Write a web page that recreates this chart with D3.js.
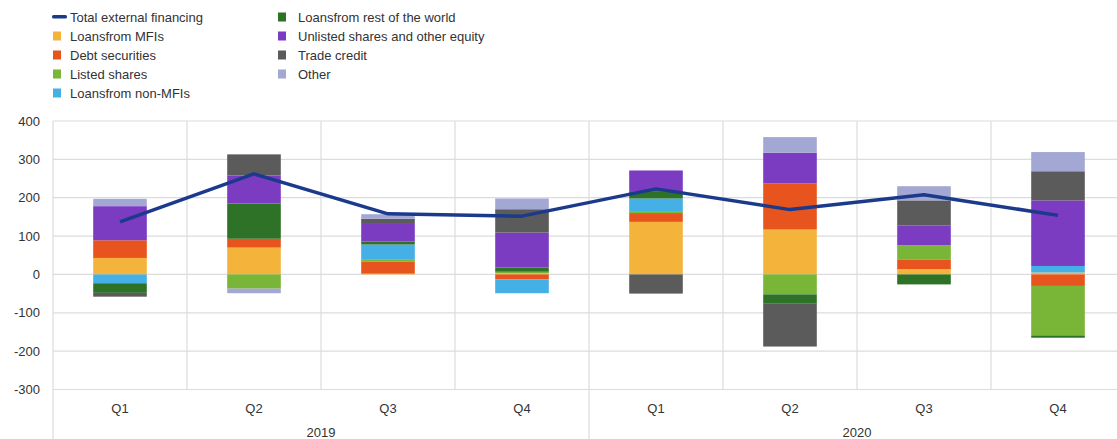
<!DOCTYPE html>
<html>
<head>
<meta charset="utf-8">
<script src="https://cdn.jsdelivr.net/npm/d3@7"></script>
<style>
  body { margin: 0; background: #fff; }
  text { font-family: "Liberation Sans", Arial, sans-serif; fill: #333; }
</style>
</head>
<body>
<svg id="chart" width="1117" height="439"></svg>
<script>
// quarters and years
const quarters = ["Q1", "Q2", "Q3", "Q4", "Q1", "Q2", "Q3", "Q4"];
const years = ["2019", "2019", "2019", "2019", "2020", "2020", "2020", "2020"];

// components, stacking order
const seriesNames = ["Loansfrom MFIs", "Debt securities", "Listed shares", "Loansfrom non-MFIs",
  "Loansfrom rest of the world", "Unlisted shares and other equity", "Trade credit", "Other"];
const seriesColors = ["#f4b43c", "#e8541e", "#79b536", "#45b0e5", "#2d7227", "#7b3cc2", "#5b5b5b", "#a3a7d3"];

const loansMFI     = [43, 70, 2, 3, 137, 117, 14, 5];
const debtSec      = [46, 23, 31, -13, 23, 120, 24, -30];
const listedShares = [0, -37, 5, 4, 5, -52, 38, -129];
const loansNonMFI  = [-23, 0, 40, -36, 33, 0, 0, 17];
const loansRotw    = [-25, 92, 8, 11, 17, -23, -26, -6];
const unlisted     = [89, 73, 48, 91, 56, 80, 52, 171];
const tradeCredit  = [-10, 55, 11, 61, -50, -113, 65, 76];
const other        = [19, -12, 12, 28, 0, 41, 37, 50];
const totalFinancing = [137, 262, 158, 152, 223, 169, 208, 154];

const yTicks = [400, 300, 200, 100, 0, -100, -200, -300];

const seriesValues = [loansMFI, debtSec, listedShares, loansNonMFI, loansRotw, unlisted, tradeCredit, other];

const svg = d3.select("#chart");
const plotLeft = 53, plotTop = 121, plotBottom = 389.5, step = 134;

const cats = quarters.map((q, i) => years[i] + " " + q);
const rows = cats.map((c, i) => {
  const r = { cat: c };
  seriesNames.forEach((s, j) => r[s] = seriesValues[j][i]);
  return r;
});

const x = d3.scaleBand().domain(cats).range([plotLeft, plotLeft + step * cats.length])
  .paddingInner(0.6).paddingOuter(0.3);
const y = d3.scaleLinear().domain([-300, 400]).range([plotBottom, plotTop]);

// horizontal grid
svg.append("g").selectAll("line").data(yTicks).enter().append("line")
  .attr("x1", plotLeft).attr("x2", 1117)
  .attr("y1", d => y(d)).attr("y2", d => y(d))
  .attr("stroke", "#dcdcdc").attr("stroke-width", 1.2);

// vertical grid at category boundaries
svg.append("g").selectAll("line").data(cats.slice(1)).enter().append("line")
  .attr("x1", d => x(d) - x.step() * x.paddingInner() / 2)
  .attr("x2", d => x(d) - x.step() * x.paddingInner() / 2)
  .attr("y1", plotTop).attr("y2", (d, i) => years[i + 1] !== years[i] ? 439 : plotBottom)
  .attr("stroke", "#dcdcdc").attr("stroke-width", 1.2);

svg.append("line").attr("x1", plotLeft).attr("x2", plotLeft).attr("y1", plotTop).attr("y2", 439)
  .attr("stroke", "#dcdcdc").attr("stroke-width", 1.2);

// y labels
svg.append("g").selectAll("text").data(yTicks).enter().append("text")
  .attr("x", 40).attr("y", d => y(d) + 4.5)
  .attr("text-anchor", "end").style("font-size", "13px")
  .text(d => d);

// stacked bars
const stack = d3.stack().keys(seriesNames).offset(d3.stackOffsetDiverging);
const layers = stack(rows);

svg.append("g").selectAll("g").data(layers).enter().append("g")
  .attr("fill", (d, i) => seriesColors[i])
  .selectAll("rect").data(d => d).enter().append("rect")
  .attr("x", d => x(d.data.cat))
  .attr("width", x.bandwidth())
  .attr("y", d => y(Math.max(d[0], d[1])))
  .attr("height", d => Math.abs(y(d[0]) - y(d[1])));

// total line
const line = d3.line()
  .x((d, i) => x(cats[i]) + x.bandwidth() / 2)
  .y(d => y(d));
svg.append("path").datum(totalFinancing)
  .attr("d", line).attr("fill", "none")
  .attr("stroke", "#1b3a8c").attr("stroke-width", 3.5)
  .attr("stroke-linejoin", "round");

// quarter labels
svg.append("g").selectAll("text").data(cats).enter().append("text")
  .attr("x", d => x(d) + x.bandwidth() / 2).attr("y", 413)
  .attr("text-anchor", "middle").style("font-size", "13px")
  .text((d, i) => quarters[i]);

// year labels
const yearList = Array.from(new Set(years));
svg.append("g").selectAll("text").data(yearList).enter().append("text")
  .attr("x", yr => {
    const cs = cats.filter((c, i) => years[i] === yr);
    return (x(cs[0]) + x(cs[cs.length - 1]) + x.bandwidth()) / 2;
  })
  .attr("y", 437).attr("text-anchor", "middle").style("font-size", "13px")
  .text(d => d);

// legend
const legendItems = [{ name: "Total external financing", color: "#1b3a8c", line: true }]
  .concat(seriesNames.map((s, i) => ({ name: s, color: seriesColors[i] })));
const legend = svg.append("g");
const lg = legend.selectAll("g").data(legendItems).enter().append("g")
  .attr("transform", (d, i) => {
    const col = i < 5 ? 0 : 1;
    const row = i < 5 ? i : i - 5;
    return `translate(${col === 0 ? 53 : 278},${17 + row * 19})`;
  });
lg.each(function(d) {
  const g = d3.select(this);
  if (d.line) {
    g.append("rect").attr("x", -1).attr("y", -2).attr("width", 15).attr("height", 3.5)
      .attr("rx", 1.5).attr("fill", d.color);
  } else {
    g.append("rect").attr("x", 0).attr("y", -4.5).attr("width", 8).attr("height", 9)
      .attr("fill", d.color);
  }
});
lg.append("text").attr("x", (d, i) => i < 5 ? 17 : 20).attr("y", 4.5)
  .style("font-size", "13px").text(d => d.name);
</script>
</body>
</html>
